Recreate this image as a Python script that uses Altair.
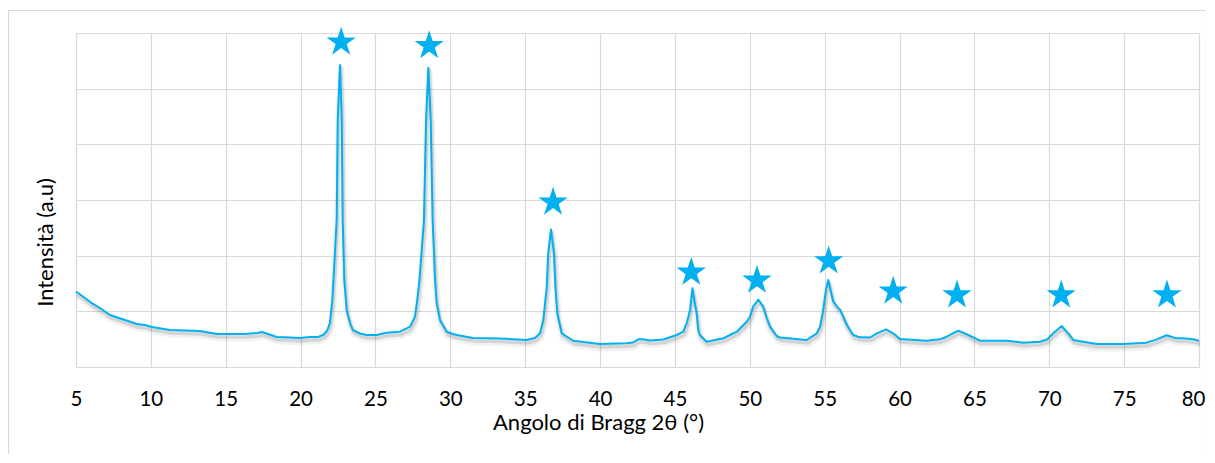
import altair as alt
import pandas as pd

# XRD pattern (2θ in degrees, intensity in arbitrary units)
two_theta = [
    5.00, 5.60, 6.14, 6.60, 7.27, 8.27, 9.07, 9.61, 10.08, 11.28, 12.28, 13.28,
    14.42, 15.49, 16.29, 17.09, 17.42, 17.82, 18.42, 19.29, 19.96, 20.63, 21.16,
    21.50, 21.76, 21.96, 22.12, 22.23, 22.41, 22.48, 22.63, 22.75, 22.81, 22.92,
    23.08, 23.30, 23.50, 23.97, 24.41, 25.08, 25.75, 26.64, 27.31, 27.64, 27.79,
    27.94, 28.24, 28.38, 28.53, 28.69, 28.82, 28.98, 29.09, 29.31, 29.76, 30.18,
    30.43, 31.51, 33.32, 35.10, 35.65, 35.99, 36.21, 36.44, 36.54, 36.72, 36.92,
    37.02, 37.14, 37.44, 38.21, 40.00, 41.78, 42.20, 42.55, 42.89, 43.33, 44.22,
    45.12, 45.56, 45.81, 46.01, 46.17, 46.34, 46.45, 46.56, 46.67, 47.12, 48.23,
    48.68, 49.13, 49.79, 50.01, 50.23, 50.57, 50.90, 51.13, 51.35, 51.80, 52.02,
    53.80, 54.47, 54.69, 54.87, 55.09, 55.24, 55.42, 55.58, 55.91, 56.02, 56.24,
    56.47, 56.69, 56.91, 57.36, 58.03, 58.49, 59.10, 59.58, 60.03, 61.81, 62.70,
    63.15, 63.92, 64.59, 64.93, 65.37, 67.16, 68.27, 69.38, 69.85, 70.27, 70.83,
    71.27, 71.61, 72.27, 73.17, 74.94, 76.51, 77.18, 77.84, 78.51, 78.95, 79.62,
    80.00,
]
intensity = [
    1356, 1240, 1132, 1060, 934, 844, 773, 755, 719, 664, 656, 647,
    593, 593, 593, 611, 629, 593, 538, 530, 521, 538, 538,
    575, 647, 790, 1203, 1743, 2641, 4437, 5426, 4437, 2641, 1563,
    1024, 790, 664, 602, 575, 575, 616, 634, 724, 904, 1203,
    1563, 2641, 4437, 5376, 4437, 2641, 1563, 1150, 844, 634, 593,
    575, 521, 512, 485, 521, 605, 844, 1437, 2047, 2470, 2047,
    1437, 970, 605, 472, 413, 426, 440, 497, 497, 476, 494,
    575, 634, 808, 1024, 1414, 1114, 970, 664, 575, 455, 515,
    575, 634, 814, 904, 1084, 1212, 1084, 880, 724, 557, 530,
    485, 605, 724, 970, 1383, 1563, 1347, 1173, 1055, 1036, 904,
    764, 664, 575, 533, 530, 605, 677, 605, 503, 472, 497,
    544, 652, 575, 533, 472, 472, 437, 455, 494, 605, 737,
    605, 485, 455, 413, 413, 437, 497, 570, 515, 515, 497,
    472,
]

# Star markers above the indexed reflections
star_two_theta = [22.71, 28.59, 36.86, 46.09, 50.48, 55.27, 59.58, 63.84, 70.80, 77.86]
star_intensity = [5835, 5772, 2961, 1701, 1557, 1905, 1361, 1293, 1293, 1293]

x_ticks = list(range(5, 81, 5))
y_ticks = [0, 1000, 2000, 3000, 4000, 5000, 6000]

BLUE = "#00B0F0"
GRID = "#d9d9d9"
FONT = "Lato, 'Noto Sans', sans-serif"

curve = pd.DataFrame({"two_theta": two_theta, "intensity": intensity})
stars = pd.DataFrame({"two_theta": star_two_theta, "intensity": star_intensity})

x_enc = alt.X(
    "two_theta:Q",
    scale=alt.Scale(domain=[5, 80], nice=False, zero=False),
    axis=alt.Axis(
        values=x_ticks,
        title="Angolo di Bragg 2θ (°)",
        grid=True,
        gridColor=GRID,
        gridWidth=1.2,
        ticks=False,
        domain=True,
        domainColor=GRID,
        domainWidth=1.2,
        labelPadding=22,
        labelFontSize=20.5,
        labelColor="#000000",
        labelFont=FONT,
        labelFlush=True,
        labelFlushOffset=6,
        titleFontSize=22,
        titleFontWeight="normal",
        titleColor="#000000",
        titleFont=FONT,
        titlePadding=3,
        titleX=522,
        titleAlign="center",
    ),
)
y_enc = alt.Y(
    "intensity:Q",
    scale=alt.Scale(domain=[0, 6000], nice=False, zero=True),
    axis=alt.Axis(
        values=y_ticks,
        title="Intensità (a.u)",
        grid=True,
        gridColor=GRID,
        gridWidth=1.2,
        ticks=False,
        labels=False,
        domain=False,
        titleFontSize=22,
        titleFontWeight="normal",
        titleColor="#000000",
        titleFont=FONT,
        titlePadding=19,
        titleY=209,
        titleAlign="center",
    ),
)

shadow_wide = alt.Chart(curve).mark_line(
    color="#000000", strokeWidth=7, opacity=0.05, yOffset=4, xOffset=1, strokeJoin="round"
).encode(x=x_enc, y=y_enc)
shadow_narrow = alt.Chart(curve).mark_line(
    color="#000000", strokeWidth=3.5, opacity=0.12, yOffset=3, xOffset=1, strokeJoin="round"
).encode(x=x_enc, y=y_enc)
line = alt.Chart(curve).mark_line(
    color=BLUE, strokeWidth=2, strokeJoin="round"
).encode(x=x_enc, y=y_enc)

STAR = ("M0,-1L0.2245,-0.309L0.9511,-0.309L0.3633,0.118L0.5878,0.809L0,0.382"
        "L-0.5878,0.809L-0.3633,0.118L-0.9511,-0.309L-0.2245,-0.309Z")
star_layer = alt.Chart(stars).mark_point(
    shape=STAR, filled=True, color=BLUE, size=950, opacity=1, strokeWidth=0
).encode(x=x_enc, y=y_enc)

border = alt.Chart(pd.DataFrame({"a": [0]})).mark_rect(
    filled=False, stroke=GRID, strokeWidth=1.2, clip=False
).encode(
    x=alt.value(-67.5), x2=alt.value(1130.5), y=alt.value(-22.5), y2=alt.value(600)
)

chart = alt.layer(border, shadow_wide, shadow_narrow, line, star_layer).properties(
    width=1123,
    height=334,
    autosize=alt.AutoSizeParams(type="none"),
    padding={"left": 68, "top": 25, "right": 7, "bottom": 87},
    background="white",
).configure_view(stroke=None)

chart.save("out.html", embed_options={"renderer": "svg", "actions": False})
